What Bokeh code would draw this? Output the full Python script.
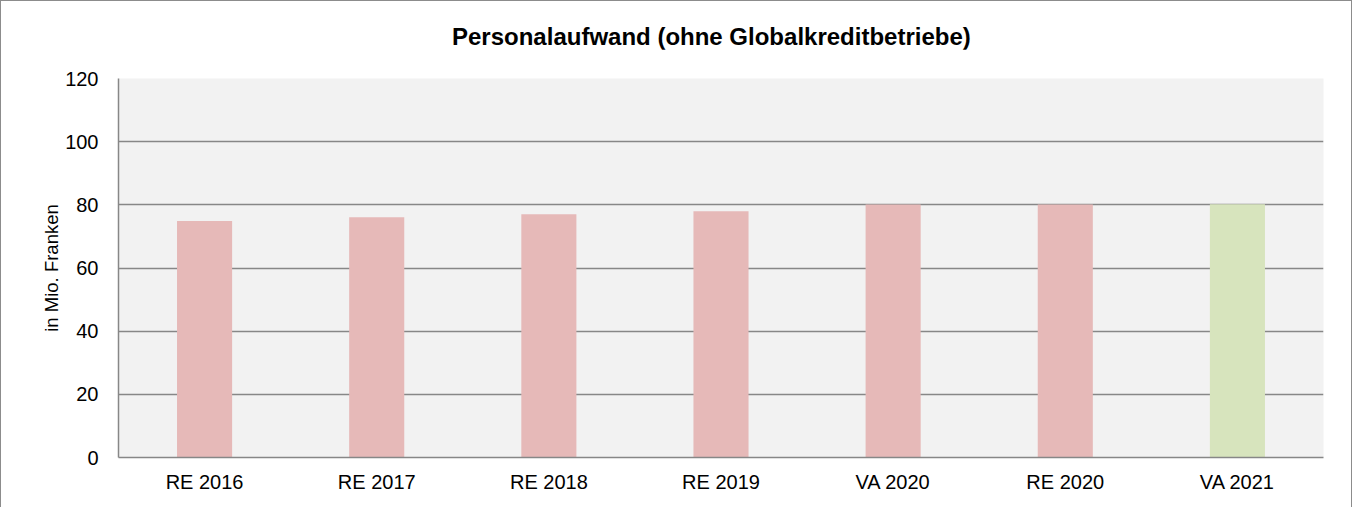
from bokeh.plotting import figure
from bokeh.models import ColumnDataSource, FixedTicker, Div
from bokeh.layouts import column
from bokeh.embed import file_html
from bokeh.resources import INLINE

categories = ["RE 2016", "RE 2017", "RE 2018", "RE 2019", "VA 2020", "RE 2020", "VA 2021"]
values = [74.9, 76.1, 77.0, 78.0, 80.1, 80.1, 80.2]
colors = ["#e6b9b8", "#e6b9b8", "#e6b9b8", "#e6b9b8", "#e6b9b8", "#e6b9b8", "#d7e4bd"]
y_ticks = [0, 20, 40, 60, 80, 100, 120]
title_text = "Personalaufwand (ohne Globalkreditbetriebe)"

src = ColumnDataSource(dict(cat=categories, val=values, col=colors))

title_div = Div(
    text=('<div style="margin:0; padding:24px 0 0 451px; font-family:\'Liberation Sans\'; '
          'font-size:24px; font-weight:bold; line-height:24px; color:black; white-space:nowrap">'
          + title_text + '</div>'),
    width=1350, height=48, margin=0)

p = figure(x_range=categories, y_range=(0, 120), width=1350, height=458,
           output_backend="svg", toolbar_location=None,
           min_border_left=117, min_border_right=28, min_border_top=29, min_border_bottom=50,
           background_fill_color="#f2f2f2", border_fill_color="white")

p.vbar(x="cat", top="val", width=0.32, source=src, fill_color="col", line_color=None)

p.outline_line_color = None
p.xgrid.grid_line_color = None
p.ygrid.grid_line_color = "#878787"
p.ygrid.grid_line_width = 1.5
p.yaxis.ticker = FixedTicker(ticks=y_ticks)

for ax in (p.xaxis, p.yaxis):
    ax.axis_line_color = "#878787"
    ax.axis_line_width = 1.5
    ax.major_tick_line_color = None
    ax.minor_tick_line_color = None
    ax.major_label_text_font = "Liberation Sans"
    ax.major_label_text_font_size = "20px"
    ax.major_label_text_color = "black"

p.xaxis.major_label_standoff = 7
p.yaxis.major_label_standoff = 14
p.yaxis.axis_label = "in Mio. Franken"
p.yaxis.axis_label_text_font = "Liberation Sans"
p.yaxis.axis_label_text_font_size = "18.5px"
p.yaxis.axis_label_text_font_style = "normal"
p.yaxis.axis_label_text_color = "black"
p.yaxis.axis_label_standoff = 0

layout = column(title_div, p, spacing=0,
                styles={"border-left": "1px solid #8c8c8c", "border-top": "1px solid #8c8c8c",
                        "border-right": "1px solid #8c8c8c", "background-color": "white"})

open("out.html", "w").write(file_html(layout, INLINE))
